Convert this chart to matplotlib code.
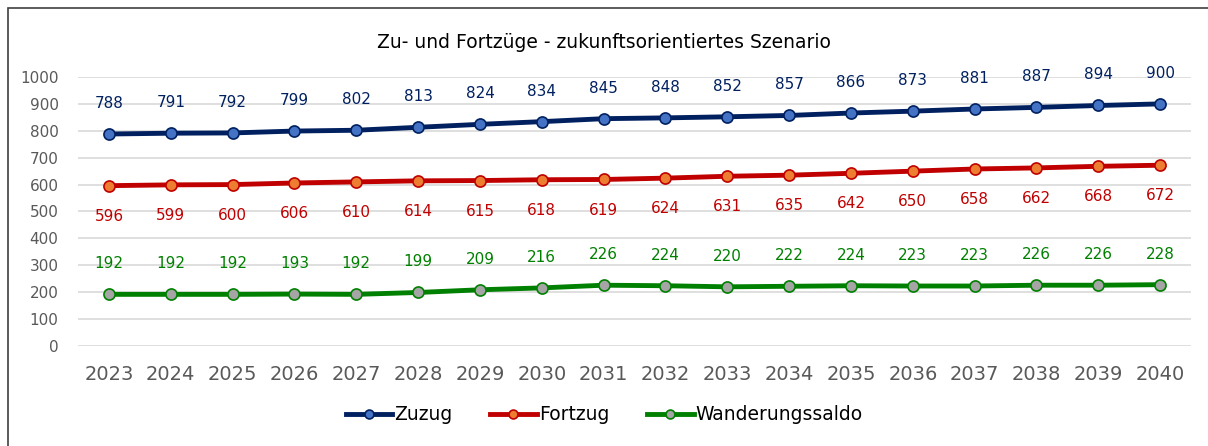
import matplotlib
matplotlib.use("Agg")
import matplotlib.pyplot as plt
from matplotlib.patches import Rectangle

jahre = [str(j) for j in range(2023, 2041)]
zuzug = [788, 791, 792, 799, 802, 813, 824, 834, 845, 848, 852, 857, 866, 873, 881, 887, 894, 900]
fortzug = [596, 599, 600, 606, 610, 614, 615, 618, 619, 624, 631, 635, 642, 650, 658, 662, 668, 672]
saldo = [192, 192, 192, 193, 192, 199, 209, 216, 226, 224, 220, 222, 224, 223, 223, 226, 226, 228]

serien = [
    ("Zuzug", zuzug, "#002060", "#4472C4", 1),
    ("Fortzug", fortzug, "#C00000", "#ED7D31", -1),
    ("Wanderungssaldo", saldo, "#008000", "#A5A5A5", 1),
]

fig = plt.figure(figsize=(12.08, 4.46), dpi=100)
ax = fig.add_axes([0.0646, 0.2242, 0.9214, 0.6032])

x = list(range(len(jahre)))
for name, werte, farbe, face, seite in serien:
    ax.plot(x, werte, color=farbe, linewidth=3.5, marker="o", markersize=8,
            markerfacecolor=face, markeredgecolor=farbe, markeredgewidth=1.2,
            label=name, zorder=3)
    for xi, v in zip(x, werte):
        ax.annotate(str(v), (xi, v), xytext=(0, 22 * seite), textcoords="offset points",
                    ha="center", va="center", fontsize=11, color=farbe)

ax.set_xlim(-0.5, len(jahre) - 0.5)
ax.set_ylim(0, 1000)
ax.set_yticks(range(0, 1001, 100))
ax.set_xticks(x)
ax.set_xticklabels(jahre)
ax.tick_params(axis="y", labelsize=11, labelcolor="#595959", length=0, pad=14)
ax.tick_params(axis="x", labelsize=14, labelcolor="#595959", length=0, pad=14)
ax.grid(axis="y", color="#D9D9D9", linewidth=1.2)
ax.set_axisbelow(True)
for s in ax.spines.values():
    s.set_visible(False)

fig.text(0.5, 0.905, "Zu- und Fortzüge - zukunftsorientiertes Szenario",
         ha="center", va="center", fontsize=13.5, color="black")

ax.legend(loc="center", bbox_to_anchor=(0.5, 0.07), bbox_transform=fig.transFigure,
          ncol=3, frameon=False, fontsize=13.5, handlelength=2.5, columnspacing=2.0,
          handletextpad=0.1, markerscale=0.8)

# Rahmen (rechts und unten ausserhalb des Bildes)
fig.patches.append(Rectangle((0.0066, -0.05), 1.05, 1.032, transform=fig.transFigure,
                             fill=False, edgecolor="#404040", linewidth=1.2))

fig.savefig("out.png", dpi=100)
